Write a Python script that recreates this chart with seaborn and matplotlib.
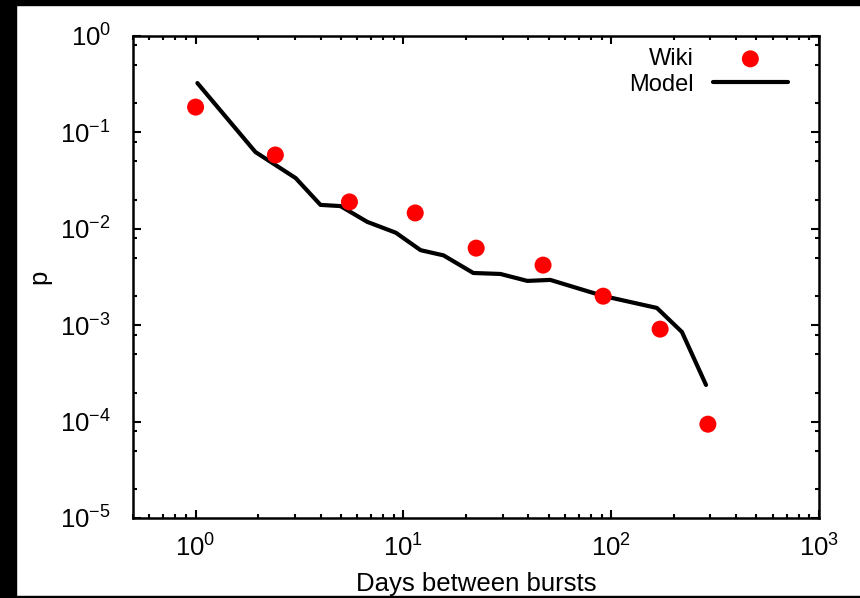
import numpy as np
import pandas as pd
import seaborn as sns
import matplotlib
matplotlib.use("Agg")
import matplotlib.pyplot as plt
from matplotlib.ticker import LogLocator, NullFormatter
from matplotlib.patches import Rectangle

# values
wiki_days = [1.0, 2.42, 5.5, 11.4, 22.4, 47.0, 91.5, 172.0, 292.0]
wiki_p = [0.183, 0.0583, 0.019, 0.0146, 0.0063, 0.0042, 0.0020, 0.00091, 9.4e-5]

model_days = [1.02, 1.94, 3.03, 3.99, 4.98, 6.7, 9.2, 12.1, 15.6, 21.7,
              29.3, 39.5, 50.9, 91.5, 166.0, 219.0, 286.0]
model_p = [0.325, 0.0626, 0.0336, 0.0177, 0.0172, 0.0118, 0.0091, 0.006,
           0.0053, 0.00348, 0.0034, 0.00288, 0.00295, 0.00201, 0.00151,
           0.00085, 0.00024]

wiki = pd.DataFrame({"days": wiki_days, "p": wiki_p})
model = pd.DataFrame({"days": model_days, "p": model_p})

sns.set_style("ticks")
plt.rcParams['font.family'] = ['Liberation Sans', 'DejaVu Sans']
plt.rcParams['mathtext.fontset'] = 'custom'
plt.rcParams['mathtext.rm'] = 'Liberation Sans'
plt.rcParams['mathtext.it'] = 'Liberation Sans:italic'
plt.rcParams['mathtext.bf'] = 'Liberation Sans:bold'
plt.rcParams['text.color'] = 'black'
plt.rcParams['axes.labelcolor'] = 'black'
plt.rcParams['xtick.color'] = 'black'
plt.rcParams['ytick.color'] = 'black'

fig = plt.figure(figsize=(8.6, 5.98), dpi=100)
ax = fig.add_axes([0.1547, 0.1338, 0.9523 - 0.1547, 0.9398 - 0.1338])

sns.scatterplot(data=wiki, x="days", y="p", ax=ax, color="#ff0000",
                s=150, edgecolor="none", label="Wiki", zorder=3)
sns.lineplot(data=model, x="days", y="p", ax=ax, color="black", lw=3,
             sort=False, estimator=None, label="Model", zorder=2)

ax.set_xscale("log")
ax.set_yscale("log")
ax.set_xlim(0.5, 1000)
ax.set_ylim(1e-5, 1)

ax.xaxis.set_major_locator(LogLocator(base=10, numticks=10))
ax.xaxis.set_minor_locator(LogLocator(base=10, subs=np.arange(2, 10), numticks=20))
ax.yaxis.set_major_locator(LogLocator(base=10, numticks=10))
ax.yaxis.set_minor_locator(LogLocator(base=10, subs=(2, 5, 8), numticks=20))
ax.xaxis.set_minor_formatter(NullFormatter())
ax.yaxis.set_minor_formatter(NullFormatter())

ax.tick_params(which="both", direction="in", top=True, right=True, width=1.5,
               color="black", labelcolor="black")
ax.tick_params(which="major", length=6, labelsize=18.5, pad=12)
ax.tick_params(which="minor", length=3)
ax.tick_params(axis="y", which="major", pad=16)
for s in ax.spines.values():
    s.set_linewidth(1.8)
    s.set_color("black")

ax.set_xlabel("Days between bursts", fontsize=18.5, labelpad=7)
ax.set_ylabel("p", fontsize=18.5, labelpad=6)

leg = ax.legend(loc="upper right", bbox_to_anchor=(0.955, 0.975), frameon=False,
                markerfirst=False, fontsize=17, handlelength=3.2,
                handletextpad=0.8, borderpad=0, borderaxespad=0,
                labelspacing=0.15)
for t in leg.get_texts():
    t.set_color("black")

# black strips at the edges of the original image
fig.patches.append(Rectangle((0, 0), 16 / 860, 1, transform=fig.transFigure,
                             color="black", zorder=0))
fig.patches.append(Rectangle((0, 1 - 5 / 598), 1, 5 / 598, transform=fig.transFigure,
                             color="black", zorder=0))
fig.patches.append(Rectangle((0, 0), 1, 2 / 598, transform=fig.transFigure,
                             color="black", zorder=0))

fig.savefig("out.png", dpi=100)
